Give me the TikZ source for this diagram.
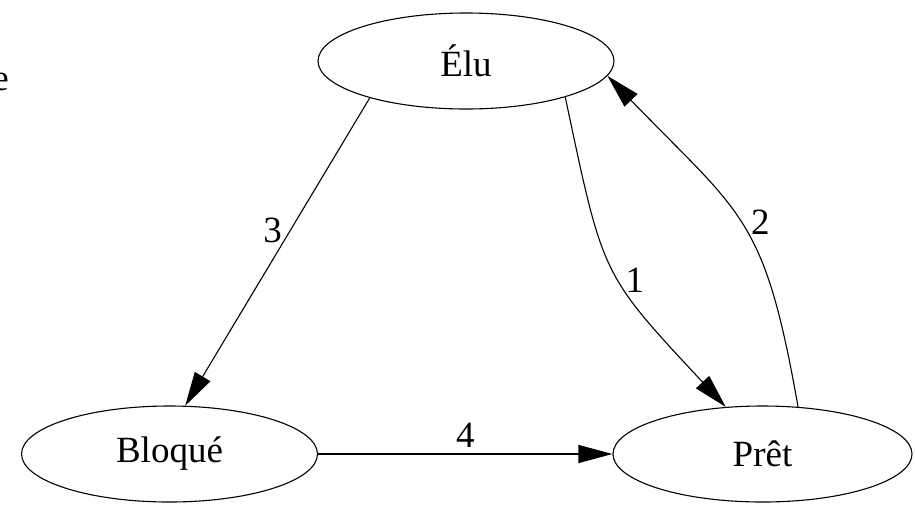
\documentclass[tikz,border=0pt]{standalone}
\usepackage{fontspec}
\setmainfont{Liberation Serif}
\usetikzlibrary{shapes.geometric,arrows.meta}

\tikzset{
    state/.style={draw, ellipse, line width=1.1pt, inner sep=0pt, minimum width=296pt, minimum height=96pt},
    trans/.style={line width=1.1pt, -{Triangle[length=34pt, width=18pt]}},
    lbl/.style={inner sep=0pt}
}

\begin{document}
\begin{tikzpicture}[x=1pt, y=1pt, font=\fontsize{37}{42}\selectfont]
    \useasboundingbox (0,0) rectangle (915,-504);

    % Cut text at the left edge
    \node[lbl, anchor=base east] (cut) at (9,-90) {e};

    % States
    \node[state] (elu) at (466,-61) {Élu};
    \node[state] (bloque) at (169.5,-454) {Bloqué};
    \node[state, minimum width=299pt] (pret) at (762.5,-454) {Prêt};

    % Transitions
    \draw[trans] (elu.340) to[out=-78, in=133, looseness=1.35] node[lbl, pos=0.55, right=6pt] (l1) {1} (pret.128);
    \draw[trans] (pret.53) to[out=100, in=-46, looseness=1.3] node[lbl, pos=0.5, right=10pt] (l2) {2} (elu.354);
    \draw[trans] (elu.201) -- node[lbl, pos=0.43, left=8pt] (l3) {3} (bloque.72);
    \draw[trans] (bloque.east) -- node[lbl, above=6pt] (l4) {4} (pret.west);
\end{tikzpicture}
\end{document}
